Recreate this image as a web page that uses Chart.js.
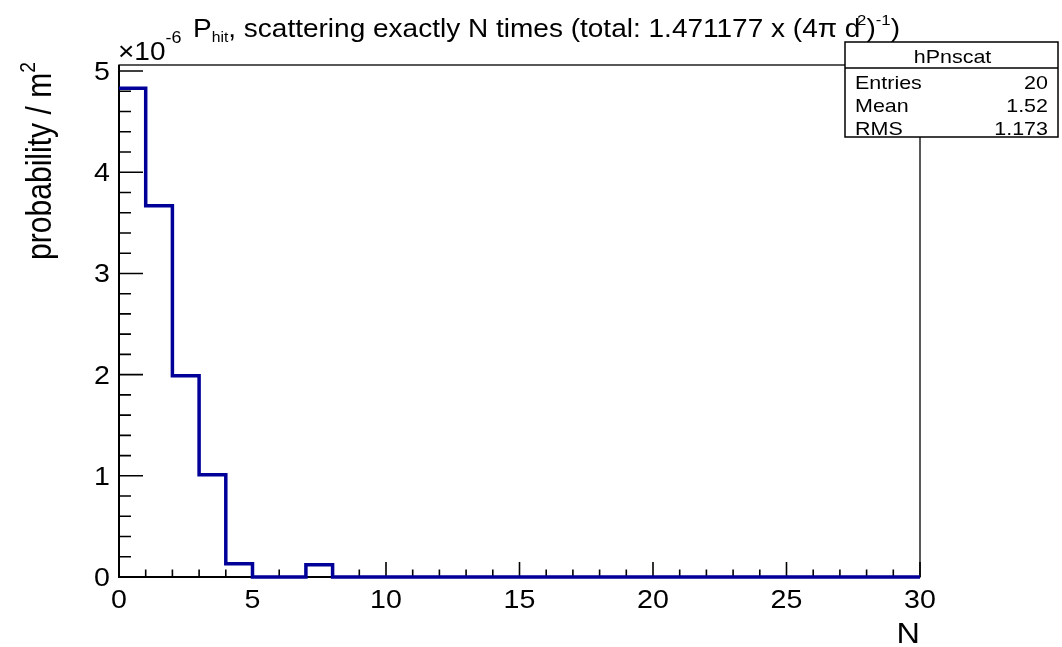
<!DOCTYPE html>
<html><head><meta charset="utf-8">
<script src="https://cdn.jsdelivr.net/npm/chart.js@4.4.1/dist/chart.umd.min.js"></script>
<style>html,body{margin:0;padding:0;background:#fff}</style>
</head><body>
<canvas id="c" width="1062" height="647"></canvas>
<script>
// ---- data ----
const binLowEdges = [0,1,2,3,4,5,6,7,8,9,10,11,12,13,14,15,16,17,18,19,20,21,22,23,24,25,26,27,28,29];
const binUpperEdge = 30;
const binValues = [4.83,3.67,1.99,1.01,0.13,0,0,0.12,0,0,0,0,0,0,0,0,0,0,0,0,0,0,0,0,0,0,0,0,0,0];
const xTickValues = [0,5,10,15,20,25,30];
const yTickValues = [0,1,2,3,4,5];
const xTickLabels = ['0','5','10','15','20','25','30'];
const yTickLabels = ['0','1','2','3','4','5'];
const yMax = 5.06;
const statsTitle = "hPnscat";
const statsNames = ["Entries","Mean","RMS"];
const statsValues = ["20","1.52","1.173"];
const FONT = "'Liberation Sans', Arial, Helvetica, sans-serif";
const SX = 1.12; // horizontal glyph stretch seen in the reference

const points = binLowEdges.map((x,i)=>({x:x,y:binValues[i]}));
points.push({x:binUpperEdge,y:binValues[binValues.length-1]});

function partsWidth(ctx, parts){
  let w=0;
  for(const p of parts){ ctx.font=p.size+'px '+FONT; w+=ctx.measureText(p.t).width+(p.gap||0); }
  return w;
}
function drawText(ctx, parts, x, y, opts){
  opts = opts||{};
  const W = partsWidth(ctx, parts);
  let sx = opts.sx!==undefined ? opts.sx : SX;
  if(opts.width) sx = opts.width / W;
  ctx.save();
  ctx.translate(x,y);
  if(opts.rot){ ctx.rotate(-Math.PI/2); ctx.scale(sx, opts.perp||1); }
  else ctx.scale(sx,1);
  let cx = opts.align==='right' ? -W : opts.align==='center' ? -W/2 : 0;
  ctx.textAlign='left'; ctx.textBaseline='alphabetic'; ctx.fillStyle='#000';
  for(const p of parts){
    ctx.font=p.size+'px '+FONT;
    ctx.fillText(p.t, cx, p.dy||0);
    cx += ctx.measureText(p.t).width+(p.gap||0);
  }
  ctx.restore();
}

const framePlugin = {
  id:'frame',
  beforeDatasetsDraw(chart){
    const {ctx, chartArea:a, scales:{x,y}} = chart;
    ctx.save();
    ctx.strokeStyle='#000';
    ctx.lineWidth=1.3;
    ctx.strokeRect(a.left, a.top, a.right-a.left, a.bottom-a.top);
    ctx.lineWidth=2;
    ctx.beginPath();
    ctx.moveTo(a.left,a.top); ctx.lineTo(a.left,a.bottom); ctx.lineTo(a.right,a.bottom);
    ctx.stroke();
    ctx.lineWidth=1.6;
    ctx.beginPath();
    for(let k=0; k*0.2<=yMax+1e-9; k++){
      const v=k*0.2, py = y.getPixelForValue(v);
      const major = k%5===0;
      ctx.moveTo(a.left,py); ctx.lineTo(a.left+(major?24:12),py);
    }
    for(let v=0; v<=30; v++){
      const px = x.getPixelForValue(v);
      const major = v%5===0;
      ctx.moveTo(px,a.bottom); ctx.lineTo(px,a.bottom-(major?15:7.5));
    }
    ctx.stroke();
    ctx.restore();
  },
  afterDraw(chart){
    const {ctx, chartArea:a, scales:{x,y}} = chart;
    x.ticks.forEach((t,i)=>{
      drawText(ctx,[{t:xTickLabels[i],size:25.5}], x.getPixelForValue(t.value), a.bottom+31, {align:'center'});
    });
    y.ticks.forEach((t,i)=>{
      drawText(ctx,[{t:yTickLabels[i],size:25.5}], a.left-9, y.getPixelForValue(t.value)+9, {align:'right'});
    });
    drawText(ctx,[{t:'\u00d710',size:25},{t:'-6',size:16,dy:-17}], 118, 60, {});
    drawText(ctx,[
      {t:'P',size:25},{t:'hit',size:14,dy:5},
      {t:', scattering exactly N times (total: 1.471177 x (4\u03c0 d',size:25,gap:-3},
      {t:'2',size:15,dy:-12},{t:')',size:25},{t:'-1',size:15,dy:-12},{t:')',size:25}
    ], 193, 37, {width:707});
    drawText(ctx,[{t:'N',size:30}], a.right, 643, {align:'right', sx:1.08});
    drawText(ctx,[{t:'probability / m',size:28},{t:'2',size:18,dy:-13}], 51, 62, {align:'right', rot:true, width:198, perp:1.22});
    ctx.save();
    const bx=845, by=42, bw=213, bh=95;
    ctx.fillStyle='#fff';
    ctx.fillRect(bx,by,bw,bh);
    ctx.strokeStyle='#000'; ctx.lineWidth=1.5;
    ctx.strokeRect(bx,by,bw,bh);
    ctx.beginPath(); ctx.moveTo(bx,68); ctx.lineTo(bx+bw,68); ctx.stroke();
    ctx.restore();
    drawText(ctx,[{t:statsTitle,size:19}], bx+bw/2+1, 63, {align:'center', sx:1.13});
    const rowY=[89,112,135];
    statsNames.forEach((n,i)=>{
      drawText(ctx,[{t:n,size:19}], bx+10, rowY[i], {sx:1.13});
      drawText(ctx,[{t:statsValues[i],size:19}], bx+bw-10, rowY[i], {align:'right', sx:1.13});
    });
  }
};

new Chart(document.getElementById('c'), {
  type:'line',
  data:{datasets:[{
    data:points, stepped:'before', borderColor:'#000099', borderWidth:3.5,
    pointRadius:0, fill:false, clip:false, tension:0
  }]},
  options:{
    responsive:false, animation:false, devicePixelRatio:1,
    layout:{padding:{left:0,top:65,right:142,bottom:0}},
    plugins:{legend:{display:false}, tooltip:{enabled:false}},
    scales:{
      x:{type:'linear', min:0, max:30,
        afterBuildTicks:s=>{s.ticks=xTickValues.map(v=>({value:v}));},
        afterFit:s=>{s.height=70;},
        grid:{display:false}, border:{display:false},
        ticks:{display:false}
      },
      y:{type:'linear', min:0, max:yMax,
        afterBuildTicks:s=>{s.ticks=yTickValues.map(v=>({value:v}));},
        afterFit:s=>{s.width=119;},
        grid:{display:false}, border:{display:false},
        ticks:{display:false}
      }
    }
  },
  plugins:[framePlugin]
});
</script>
</body></html>
